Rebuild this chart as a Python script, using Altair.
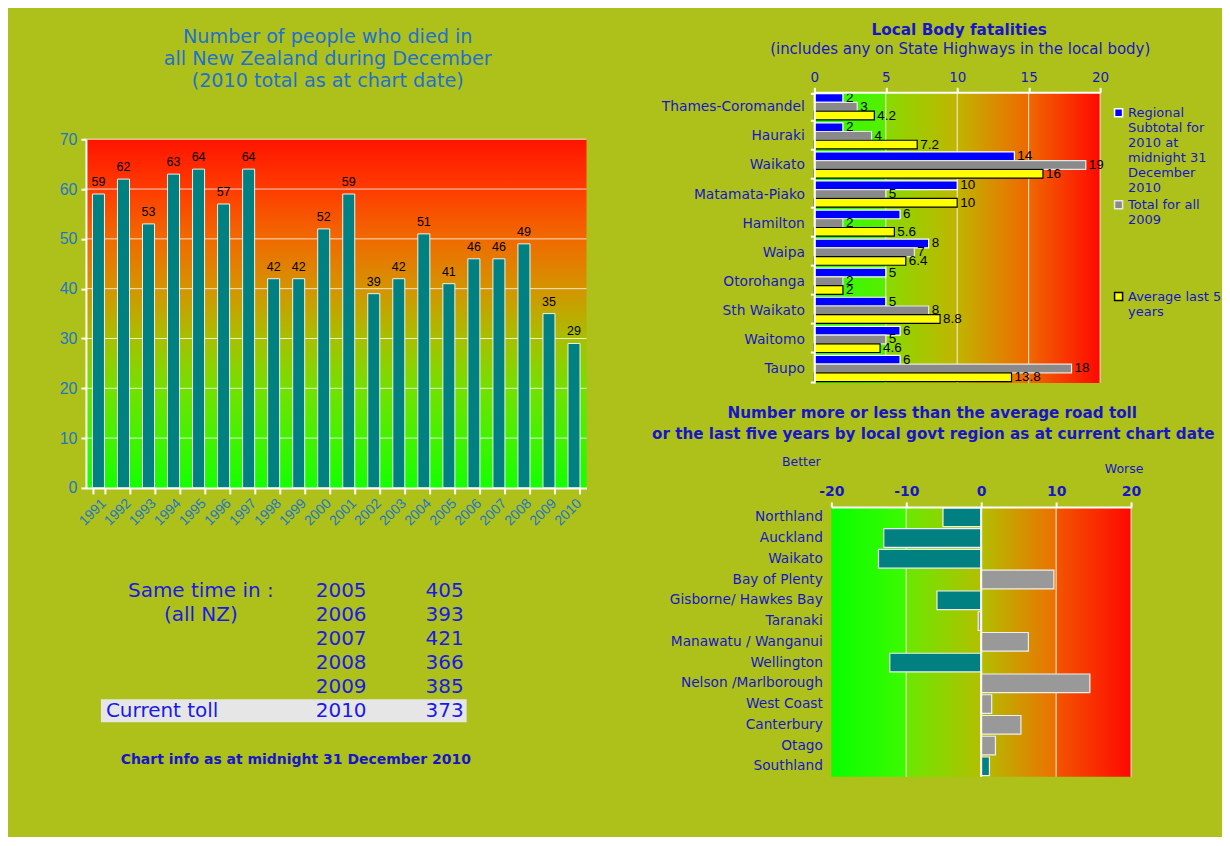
import json
import altair as alt
import pandas as pd

# ---------------- data ----------------
years = [str(y) for y in range(1991, 2011)]
deaths = [59, 62, 53, 63, 64, 57, 64, 42, 42, 52, 59, 39, 42, 51, 41, 46, 46, 49, 35, 29]
left_ticks = [0, 10, 20, 30, 40, 50, 60, 70]

bodies = ["Thames-Coromandel", "Hauraki", "Waikato", "Matamata-Piako", "Hamilton",
          "Waipa", "Otorohanga", "Sth Waikato", "Waitomo", "Taupo"]
subtotal_2010 = [2, 2, 14, 10, 6, 8, 5, 5, 6, 6]
total_2009 = [3, 4, 19, 5, 2, 7, 2, 8, 5, 18]
average_5yr = [4.2, 7.2, 16, 10, 5.6, 6.4, 2, 8.8, 4.6, 13.8]
series_keys = ["sub2010", "tot2009", "avg5"]
series_colors = ["#0000ff", "#8a8a8a", "#ffff00"]
series_strokes = ["#ffffff", "#e8e8e8", "#000000"]
legend_lines = {
    "sub2010": ["Regional", "Subtotal for", "2010 at", "midnight 31", "December", "2010"],
    "tot2009": ["Total for all", "2009", "", "", "", ""],
    "avg5": ["Average last 5", "years"],
}
top_ticks = [0, 5, 10, 15, 20]

regions = ["Northland", "Auckland", "Waikato", "Bay of Plenty", "Gisborne/ Hawkes Bay",
           "Taranaki", "Manawatu /  Wanganui", "Wellington", "Nelson /Marlborough",
           "West Coast", "Canterbury", "Otago", "Southland"]
region_diff = [-5.1, -13.0, -13.7, 9.7, -5.9, -0.4, 6.3, -12.2, 14.5, 1.4, 5.3, 1.9, 1.1]
region_kind = ["better", "better", "better", "worse", "better", "worse", "worse",
               "better", "worse", "worse", "worse", "worse", "better"]
diff_ticks = [-20, -10, 0, 10, 20]

same_time_labels = ["Same time in :", "(all NZ)", "", "", "", "Current toll"]
same_time_years = ["2005", "2006", "2007", "2008", "2009", "2010"]
same_time_tolls = ["405", "393", "421", "366", "385", "373"]

left_title = ["Number of people who died in", "all New Zealand during December",
              "(2010 total as at chart date)"]
right_title = "Local Body fatalities"
right_subtitle = "(includes any on State Highways in the local body)"
bottom_title_1 = "Number more or less than the average road toll"
bottom_title_2 = "or the last five years by local govt region as at  current chart date"
info_text = "Chart info as at midnight 31 December 2010"

# ---------------- styles ----------------
BG = "#ADC11A"
FONT = "DejaVu Sans"
ARIAL = "Liberation Sans"
TITLE_BLUE = "#1e70d2"
AXIS_BLUE = "#1f76c8"
DARK_BLUE = "#1616c8"
TABLE_BLUE = "#1a1ae6"


def lin_grad(stops, vertical):
    return alt.LinearGradient(
        gradient="linear",
        stops=[alt.GradientStop(offset=o, color=c) for o, c in stops],
        x1=0, y1=0, x2=0 if vertical else 1, y2=1 if vertical else 0)


one = pd.DataFrame({"s": [0]})


def spacer(w, h):
    return alt.Chart(one).mark_rect(opacity=0).encode(
        x=alt.value(0), x2=alt.value(1), y=alt.value(0), y2=alt.value(1)).properties(
        width=w, height=h)


def txt(text, x, y, size, color, weight="normal", align="center", font=FONT):
    return alt.Chart(one).mark_text(text=text, font=font, fontSize=size, color=color,
                                    fontWeight=weight, align=align, baseline="middle").encode(
        x=alt.value(x), y=alt.value(y))


# grid geometry (rows follow the right-hand column)
COL_W = [78, 501, 228, 317, 90]
ROW_H = [84, 291, 124, 270, 60]

# ---------------- left bar chart (row 1, overflowing into row 2) ----------------
WL = COL_W[1]
yL = alt.Scale(domain=[0, 70], nice=False, range=[396, 47])
left_yaxis = alt.Axis(title=None, values=left_ticks, labelFont=ARIAL, labelFontSize=16,
                      labelColor=AXIS_BLUE, domainColor="white", domainWidth=2,
                      tickColor="white", tickWidth=2, tickSize=5, labelPadding=4,
                      grid=False, zindex=1)
left_df = pd.DataFrame({"year": years, "deaths": deaths})
left_stops = [(0, "#ff1400"), (0.143, "#ff3c00"), (0.286, "#f06a00"), (0.429, "#d49400"),
              (0.571, "#a8bf00"), (0.714, "#74e000"), (0.857, "#44f200"), (1, "#14ff00")]
left_bg = alt.Chart(pd.DataFrame({"lo": [0], "hi": [70]})).mark_rect(
    color=lin_grad(left_stops, True)).encode(
    x=alt.value(0), x2=alt.value("width"),
    y=alt.Y("lo:Q", scale=yL, axis=left_yaxis), y2="hi:Q")
left_grid = alt.Chart(pd.DataFrame({"v": left_ticks[1:]})).mark_rule(
    color="white", strokeWidth=1, opacity=0.8).encode(
    y=alt.Y("v:Q", scale=yL, axis=left_yaxis))
left_x = alt.X("year:N", sort=years, scale=alt.Scale(paddingInner=0.52, paddingOuter=0.26),
               axis=alt.Axis(title=None, labelAngle=-45, labelFont=ARIAL, labelFontSize=14,
                             labelColor=AXIS_BLUE, domainColor="white", domainWidth=2,
                             tickColor="white", tickWidth=2, tickSize=6, tickBand="extent",
                             labelPadding=2, offset=105, zindex=1))
left_y = alt.Y("deaths:Q", scale=yL, axis=left_yaxis)
left_bars = alt.Chart(left_df).mark_bar(color="#008080", stroke="#eef4ee", strokeWidth=1).encode(
    x=left_x, y=left_y)
left_text = alt.Chart(left_df).mark_text(font=ARIAL, fontSize=12.5, color="black",
                                         baseline="bottom", dy=-5).encode(
    x=left_x, y=left_y, text="deaths:Q")
left_chart = alt.layer(left_bg, left_grid, left_bars, left_text).properties(
    width=WL, height=ROW_H[1])

left_title_block = alt.layer(
    spacer(WL, ROW_H[0]),
    *[txt(line, 242, 29 + 22 * i, 19.2, TITLE_BLUE) for i, line in enumerate(left_title)],
).properties(width=WL, height=ROW_H[0])

# ---------------- table (row 3) ----------------
tab_df = pd.DataFrame({"row": list(range(6)), "label": same_time_labels,
                       "year": same_time_years, "toll": same_time_tolls})
ytab = alt.Scale(domain=[0, 5], range=[84, 204], nice=False, zero=False)
tab_hl = alt.Chart(tab_df).transform_filter("datum.row == 5").transform_calculate(
    y0="datum.row - 0.48", y1="datum.row + 0.48").mark_rect(color="#e6e6e6").encode(
    x=alt.value(15), x2=alt.value(381), y=alt.Y("y0:Q", scale=ytab, axis=None), y2="y1:Q")
tab_style = dict(font=FONT, fontSize=20, color=TABLE_BLUE, baseline="middle")
tab_lab_c = alt.Chart(tab_df).transform_filter("datum.row < 2").mark_text(
    align="center", **tab_style).encode(x=alt.value(115), y=alt.Y("row:Q", scale=ytab, axis=None),
                                        text="label:N")
tab_lab_l = alt.Chart(tab_df).transform_filter("datum.row == 5").mark_text(
    align="left", **tab_style).encode(x=alt.value(20), y=alt.Y("row:Q", scale=ytab, axis=None),
                                      text="label:N")
tab_year = alt.Chart(tab_df).mark_text(align="left", **tab_style).encode(
    x=alt.value(230), y=alt.Y("row:Q", scale=ytab, axis=None), text="year:N")
tab_toll = alt.Chart(tab_df).mark_text(align="right", **tab_style).encode(
    x=alt.value(378), y=alt.Y("row:Q", scale=ytab, axis=None), text="toll:N")
tab_info = txt(info_text, 210, 253, 14, DARK_BLUE, weight="bold")
table_chart = alt.layer(tab_hl, tab_lab_c, tab_lab_l, tab_year, tab_toll, tab_info).properties(
    width=WL, height=ROW_H[3])

# ---------------- top right chart (row 1) ----------------
WT, HT = 286, ROW_H[1]
tr_df = pd.DataFrame({
    "body": bodies * 3,
    "series": [k for k in series_keys for _ in bodies],
    "value": subtotal_2010 + total_2009 + average_5yr,
})
tr_df["lab"] = tr_df["value"].map(lambda v: f"{v:g}")
xT = alt.Scale(domain=[0, 20], nice=False)
tr_xaxis = alt.Axis(orient="top", values=top_ticks, title=None, labelFont=FONT,
                    labelFontSize=13.5, labelColor=DARK_BLUE, domainColor="white",
                    domainWidth=2, tickColor="white", tickWidth=2, tickSize=5,
                    labelPadding=3, labelFlush=False, grid=False, zindex=1)
tr_stops = [(0, "#28ff00"), (0.245, "#55ee00"), (0.25, "#88da00"), (0.5, "#c0b500"),
            (0.75, "#ef6800"), (1, "#ff0800")]
tr_bg = alt.Chart(pd.DataFrame({"lo": [0], "hi": [20]})).mark_rect(
    color=lin_grad(tr_stops, False)).encode(
    x=alt.X("lo:Q", scale=xT, axis=tr_xaxis), x2="hi:Q", y=alt.value(0), y2=alt.value("height"))
tr_grid = alt.Chart(pd.DataFrame({"v": top_ticks[1:]})).mark_rule(
    color="white", strokeWidth=1, opacity=0.85).encode(x=alt.X("v:Q", scale=xT, axis=tr_xaxis))

label_expr = " : ".join(
    f"datum.value == '{k}' ? {json.dumps(legend_lines[k])}" for k in series_keys[:-1]
) + f" : {json.dumps(legend_lines[series_keys[-1]])}"
tr_legend = alt.Legend(orient="none", legendX=298, legendY=14, title=None, padding=0,
                       symbolType="square", symbolSize=64, symbolStrokeWidth=1.5,
                       labelFont=FONT, labelFontSize=13, labelColor=DARK_BLUE,
                       labelOffset=3, rowPadding=2, labelLimit=300, labelExpr=label_expr)
xTR = alt.X("value:Q", scale=xT, axis=tr_xaxis)
yTR = alt.Y("body:N", sort=bodies, scale=alt.Scale(paddingInner=0.1, paddingOuter=0.05),
            axis=alt.Axis(title=None, labelFont=FONT, labelFontSize=13.8, labelColor=DARK_BLUE,
                          domainColor="white", domainWidth=2, tickColor="white", tickWidth=2,
                          tickSize=4, tickBand="extent", labelPadding=6, zindex=1))
yoTR = alt.YOffset("series:N", scale=alt.Scale(domain=series_keys))
tr_bars = alt.Chart(tr_df).mark_bar(strokeWidth=1.2).encode(
    x=xTR, y=yTR, yOffset=yoTR,
    color=alt.Color("series:N", scale=alt.Scale(domain=series_keys, range=series_colors),
                    legend=tr_legend),
    stroke=alt.Stroke("series:N", scale=alt.Scale(domain=series_keys, range=series_strokes),
                      legend=tr_legend))
tr_text = alt.Chart(tr_df).mark_text(align="left", baseline="middle", dx=3, font=ARIAL,
                                     fontSize=13.5, color="black").encode(
    x=xTR, y=yTR, yOffset=yoTR, text="lab:N")
tr_chart = alt.layer(tr_bg, tr_grid, tr_bars, tr_text).properties(width=WT, height=HT)

right_title_block = alt.layer(
    spacer(COL_W[3], ROW_H[0]),
    txt(right_title, 145, 22, 15.3, DARK_BLUE, weight="bold"),
    txt(right_subtitle, 146, 41, 15, DARK_BLUE),
).properties(width=COL_W[3], height=ROW_H[0])

# ---------------- bottom right chart (row 3) ----------------
WB, HB = COL_W[3], ROW_H[3]
br_df = pd.DataFrame({"region": regions, "diff": region_diff, "kind": region_kind})
xB = alt.Scale(domain=[-20, 20], nice=False, range=[17, 317])
br_xaxis = alt.Axis(orient="top", values=diff_ticks, title=None, labelFont=FONT,
                    labelFontSize=14, labelFontWeight="bold", labelColor=DARK_BLUE,
                    labelExpr="toString(datum.value)", labelFlush=False,
                    domainColor="white", domainWidth=2, tickColor="white", tickWidth=2,
                    tickSize=5, labelPadding=3, grid=False, zindex=1)
br_stops = [(0, "#08ff00"), (0.245, "#3cfa00"), (0.25, "#6ae800"), (0.5, "#b2bf00"),
            (0.75, "#ec7000"), (0.755, "#f25400"), (1, "#ff0800")]
br_bg = alt.Chart(pd.DataFrame({"lo": [-20], "hi": [20]})).mark_rect(
    color=lin_grad(br_stops, False)).encode(
    x=alt.X("lo:Q", scale=xB, axis=br_xaxis), x2="hi:Q", y=alt.value(0), y2=alt.value("height"))
br_grid = alt.Chart(pd.DataFrame({"v": [-10, 10, 20]})).mark_rule(
    color="white", strokeWidth=1, opacity=0.85).encode(x=alt.X("v:Q", scale=xB, axis=br_xaxis))
br_zero = alt.Chart(pd.DataFrame({"v": [0]})).mark_rule(
    color="white", strokeWidth=2).encode(x=alt.X("v:Q", scale=xB, axis=br_xaxis))
xBR = alt.X("diff:Q", scale=xB, axis=br_xaxis)
yBR = alt.Y("region:N", sort=regions, scale=alt.Scale(paddingInner=0.1, paddingOuter=0.05),
            axis=alt.Axis(title=None, labelFont=FONT, labelFontSize=13.7, labelColor=DARK_BLUE,
                          domain=False, ticks=False, labelPadding=9, offset=-17))
br_bars = alt.Chart(br_df).mark_bar(stroke="#f0f0f0", strokeWidth=1.2).encode(
    x=xBR, y=yBR,
    color=alt.Color("kind:N", scale=alt.Scale(domain=["better", "worse"],
                                              range=["#008080", "#999999"]), legend=None))
br_chart = alt.layer(br_bg, br_grid, br_bars, br_zero).properties(width=WB, height=HB)

right_mid_block = alt.layer(
    spacer(COL_W[3], ROW_H[2]),
    txt(bottom_title_1, 118, 30, 15.2, DARK_BLUE, weight="bold"),
    txt(bottom_title_2, 119, 51, 15.2, DARK_BLUE, weight="bold"),
    txt("Better", -13, 79, 12.5, DARK_BLUE),
    txt("Worse", 310, 86, 12.5, DARK_BLUE),
).properties(width=COL_W[3], height=ROW_H[2])

# ---------------- layout: 5 x 5 grid ----------------
cells = [
    spacer(COL_W[0], ROW_H[0]), left_title_block, spacer(COL_W[2], ROW_H[0]), right_title_block, spacer(COL_W[4], ROW_H[0]),
    spacer(COL_W[0], ROW_H[1]), left_chart, spacer(COL_W[2], ROW_H[1]), tr_chart, spacer(COL_W[4], ROW_H[1]),
    spacer(COL_W[0], ROW_H[2]), spacer(COL_W[1], ROW_H[2]), spacer(COL_W[2], ROW_H[2]), right_mid_block, spacer(COL_W[4], ROW_H[2]),
    spacer(COL_W[0], ROW_H[3]), table_chart, spacer(COL_W[2], ROW_H[3]), br_chart, spacer(COL_W[4], ROW_H[3]),
    spacer(COL_W[0], ROW_H[4]),
]
chart = alt.concat(*cells, columns=5, spacing=0, bounds="flush", align="each").resolve_scale(
    color="independent", stroke="independent").properties(
    background=BG, padding=0).configure(font=FONT).configure_view(strokeWidth=0)

chart.save("out.html", embed_options={"renderer": "svg", "actions": False})
